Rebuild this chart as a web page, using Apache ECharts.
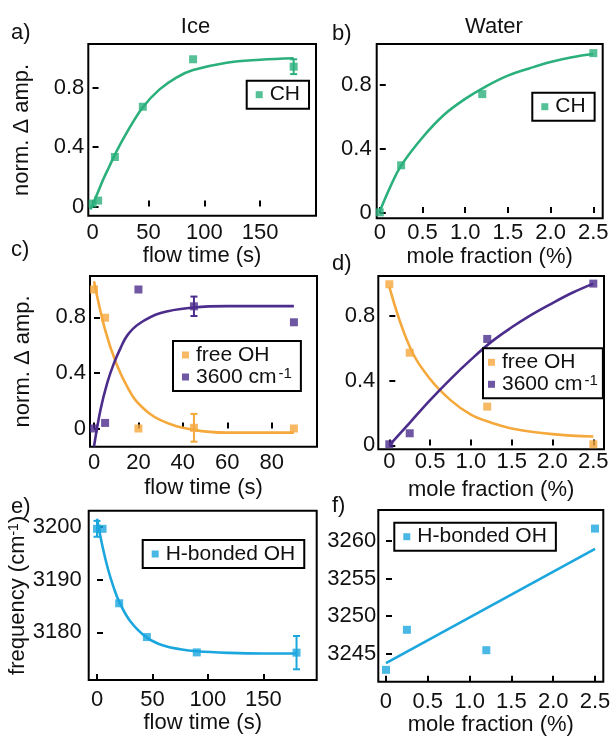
<!DOCTYPE html>
<html>
<head>
<meta charset="utf-8">
<script src="https://cdn.jsdelivr.net/npm/echarts@6/dist/echarts.min.js"></script>
<style>
html,body{margin:0;padding:0;background:#fff;}
#chart{width:616px;height:738px;}
</style>
</head>
<body>
<div id="chart"></div>
<script>
// ---------- DATA ----------
// a) Ice, CH
const aTime = [0, 5, 20, 45, 90, 180];
const aCH = [0.02, 0.04, 0.334, 0.673, 0.993, 0.943];
const aErr = [[180, 0.943, 0.05]];
const aFit = [[-2, -0.02], [0, 0.01], [5, 0.1], [10, 0.19], [15, 0.27], [20, 0.35], [30, 0.49], [45, 0.67], [60, 0.79], [75, 0.87], [90, 0.92], [120, 0.97], [150, 0.99], [180, 1.0]];
// b) Water, CH
const bFrac = [0, 0.25, 1.2, 2.5];
const bCH = [0.004, 0.297, 0.74, 0.995];
const bFit = [[0, 0.01], [0.125, 0.165], [0.25, 0.295], [0.5, 0.47], [0.75, 0.61], [1.0, 0.71], [1.25, 0.79], [1.5, 0.855], [1.75, 0.9], [2.0, 0.94], [2.25, 0.97], [2.5, 0.99]];
// c) Ice, free OH / 3600 cm-1
const cTime = [0, 5, 20, 45, 90];
const cFree = [1.0, 0.797, 0.0, 0.005, 0.0];
const c3600 = [0.0, 0.04, 1.0, 0.879, 0.764];
const cFreeErr = [[45, 0.005, 0.1]];
const c3600Err = [[45, 0.879, 0.07]];
const cFreeFit = [[0, 1.06], [5, 0.71], [10, 0.47], [15, 0.3], [20, 0.18], [30, 0.06], [45, -0.01], [60, -0.03], [90, -0.03]];
const c3600Fit = [[0, -0.13], [3, 0.14], [6, 0.33], [9, 0.47], [12, 0.58], [15, 0.67], [20, 0.75], [30, 0.83], [45, 0.87], [60, 0.88], [90, 0.88]];
// d) Water, free OH / 3600 cm-1
const dFrac = [0, 0.25, 1.2, 2.5];
const dFree = [0.996, 0.573, 0.24, 0.007];
const d3600 = [0.007, 0.075, 0.658, 1.0];
const dFreeFit = [[0, 0.98], [0.25, 0.61], [0.5, 0.41], [0.75, 0.28], [1.0, 0.19], [1.25, 0.14], [1.5, 0.105], [2.0, 0.07], [2.5, 0.055]];
const d3600Fit = [[0, 0], [0.25, 0.14], [0.5, 0.28], [0.75, 0.41], [1.0, 0.53], [1.25, 0.64], [1.5, 0.73], [1.75, 0.81], [2.0, 0.88], [2.25, 0.945], [2.5, 1.0]];
// e) Ice, H-bonded OH frequency
const eTime = [0, 5, 20, 45, 90, 180];
const eFreq = [3199.6, 3199.6, 3185.5, 3179.1, 3176.2, 3176.15];
const eErr = [[0, 3199.6, 1.5], [180, 3176.15, 3.15]];
const eFit = [[0, 3201.5], [5, 3196.2], [10, 3191.9], [15, 3188.5], [20, 3185.8], [30, 3182.1], [45, 3179.0], [60, 3177.5], [75, 3176.8], [90, 3176.4], [120, 3176.1], [150, 3176.0], [180, 3176.0]];
// f) Water, H-bonded OH frequency
const fFrac = [0, 0.25, 1.2, 2.5];
const fFreq = [3242.9, 3248.2, 3245.5, 3261.6];
const fFit = [[0, 3243.8], [2.5, 3258.9]];
// tick values
const tickTimeLong = [0, 50, 100, 150];
const tickTimeShort = [0, 20, 40, 60, 80];
const tickFrac = [0, 0.5, 1.0, 1.5, 2.0, 2.5];
const tickAmp = [0, 0.4, 0.8];
const tickFreqIce = [3180, 3190, 3200];
const tickFreqWater = [3245, 3250, 3255, 3260];

// ---------- STYLE ----------
const FONT = "'Liberation Sans', Arial, Helvetica, sans-serif";
const GREEN = '#2bb07c', ORANGE = '#f5a83c', PURPLE = '#4c2d8c', BLUE = '#1ba6de';
const FS = 22;

function zip(xs, ys) { return xs.map((x, i) => [x, ys[i]]); }
function fmt1(v) { return Math.abs(v) < 1e-9 ? '0' : v.toFixed(1); }
function fmt0(v) { return String(Math.round(v)); }

const grids = [
  {left: 88.3, top: 44, width: 227.7, height: 171.7},
  {left: 376.7, top: 44, width: 226, height: 174.3},
  {left: 90, top: 276, width: 227, height: 170.7},
  {left: 378.3, top: 276, width: 225.7, height: 173.3},
  {left: 88.7, top: 510.7, width: 228, height: 169.3},
  {left: 378.3, top: 510, width: 225, height: 171.7}
].map(g => Object.assign({show: true, borderColor: '#000', borderWidth: 2, backgroundColor: 'transparent', containLabel: false}, g));

function xAx(i, min, max, ticks, fmt, margin, name, gap) {
  return {
    type: 'value', gridIndex: i, min: min, max: max,
    axisLine: {show: false},
    axisTick: {show: true, inside: true, length: 6, customValues: ticks, lineStyle: {color: '#000', width: 2}},
    axisLabel: {show: true, customValues: ticks, formatter: fmt, margin: margin, fontSize: FS, fontFamily: FONT, color: '#111'},
    splitLine: {show: false},
    name: name, nameLocation: 'middle', nameGap: gap,
    nameTextStyle: {fontSize: FS, fontFamily: FONT, color: '#111'}
  };
}
function yAx(i, min, max, ticks, fmt, margin, name, gap) {
  return {
    type: 'value', gridIndex: i, min: min, max: max,
    axisLine: {show: false},
    axisTick: {show: true, inside: true, length: 6, customValues: ticks, lineStyle: {color: '#000', width: 2}},
    axisLabel: {show: true, customValues: ticks, formatter: fmt, margin: margin, fontSize: FS, fontFamily: FONT, color: '#111'},
    splitLine: {show: false},
    name: name || '', nameLocation: 'middle', nameGap: gap || 0, nameRotate: 90,
    nameTextStyle: {fontSize: FS, fontFamily: FONT, color: '#111',
      rich: {sup: {fontSize: 14, fontFamily: FONT, color: '#111', verticalAlign: 'top', lineHeight: 13}}}
  };
}

const xAxes = [
  xAx(0, -3.8, 200, tickTimeLong, fmt0, 6, 'flow time (s)', 28),
  xAx(1, -0.036, 2.61, tickFrac, fmt1, 4, 'mole fraction (%)', 28),
  xAx(2, -1.8, 100.4, tickTimeShort, fmt0, 5, 'flow time (s)', 30),
  xAx(3, -0.135, 2.631, tickFrac, fmt1, 2, 'mole fraction (%)', 30),
  xAx(4, -7.5, 198.2, tickTimeLong, fmt0, 9, 'flow time (s)', 32),
  xAx(5, -0.092, 2.599, tickFrac, fmt1, 9, 'mole fraction (%)', 27)
];
const yAxes = [
  yAx(0, -0.062, 1.096, tickAmp, fmt1, 4, 'norm. \u0394 amp.', 55),
  yAx(1, -0.033, 1.052, tickAmp, fmt1, 5),
  yAx(2, -0.131, 1.097, tickAmp, fmt1, 4, 'norm. \u0394 amp.', 56),
  yAx(3, -0.024, 1.047, tickAmp, fmt1, 3),
  yAx(4, 3170.97, 3203.03, tickFreqIce, fmt0, 7, 'frequency (cm{sup|-1})', 56),
  yAx(5, 3241.33, 3264.06, tickFreqWater, fmt0, 2)
];

function scatter(i, name, data, color) {
  return {type: 'scatter', name: name, xAxisIndex: i, yAxisIndex: i, data: data,
    symbol: 'rect', symbolSize: 8, itemStyle: {color: color}, z: 5, silent: true};
}
function fit(i, data, color, straight) {
  return {type: 'line', name: 'fit' + i + color, xAxisIndex: i, yAxisIndex: i, data: data,
    smooth: straight ? false : 0.4, showSymbol: false, symbol: 'none',
    lineStyle: {color: color, width: 2.6}, z: 3, silent: true, clip: true};
}
function errBars(i, data, color) {
  return {type: 'custom', name: 'err' + i + color, xAxisIndex: i, yAxisIndex: i, data: data, z: 4, silent: true,
    encode: {x: 0, y: 1},
    renderItem: function (params, api) {
      const x = api.value(0), y = api.value(1), e = api.value(2);
      const hi = api.coord([x, y + e]), lo = api.coord([x, y - e]);
      const w = 3.5, st = {stroke: color, lineWidth: 2};
      return {type: 'group', children: [
        {type: 'line', shape: {x1: hi[0], y1: hi[1], x2: lo[0], y2: lo[1]}, style: st},
        {type: 'line', shape: {x1: hi[0] - w, y1: hi[1], x2: hi[0] + w, y2: hi[1]}, style: st},
        {type: 'line', shape: {x1: lo[0] - w, y1: lo[1], x2: lo[0] + w, y2: lo[1]}, style: st}
      ]};
    }
  };
}

const series = [
  fit(0, aFit, GREEN), errBars(0, aErr, GREEN), scatter(0, 'CH', zip(aTime, aCH), GREEN),
  fit(1, bFit, GREEN), scatter(1, 'CH', zip(bFrac, bCH), GREEN),
  fit(2, cFreeFit, ORANGE), fit(2, c3600Fit, PURPLE),
  errBars(2, cFreeErr, ORANGE), errBars(2, c3600Err, PURPLE),
  scatter(2, 'free OH', zip(cTime, cFree), ORANGE), scatter(2, '3600 cm-1', zip(cTime, c3600), PURPLE),
  fit(3, dFreeFit, ORANGE), fit(3, d3600Fit, PURPLE),
  scatter(3, 'free OH', zip(dFrac, dFree), ORANGE), scatter(3, '3600 cm-1', zip(dFrac, d3600), PURPLE),
  fit(4, eFit, BLUE), errBars(4, eErr, BLUE), scatter(4, 'H-bonded OH', zip(eTime, eFreq), BLUE),
  fit(5, fFit, BLUE, true), scatter(5, 'H-bonded OH', zip(fFrac, fFreq), BLUE)
];

function legend(left, top, names, pad) {
  const p = pad || 9;
  return {
    left: left, top: top, orient: 'vertical', data: names, selectedMode: false,
    borderColor: '#000', borderWidth: 2, padding: [3, p, 3, p], borderRadius: 0,
    itemWidth: 7, itemHeight: 7, itemGap: 0, icon: 'rect', backgroundColor: '#fff',
    formatter: function (n) { return n === '3600 cm-1' ? '3600 cm{sup|-1}' : n; },
    textStyle: {fontSize: 21, fontFamily: FONT, color: '#111', lineHeight: 22, padding: [0, 0, 0, 2],
      rich: {sup: {fontSize: 15, fontFamily: FONT, color: '#111', verticalAlign: 'top', lineHeight: 12, padding: [0, 0, 0, 2]}}}
  };
}
const legends = [
  legend(246.7, 80.7, ['CH']),
  legend(532.3, 92.7, ['CH']),
  legend(173, 341, ['free OH', '3600 cm-1']),
  legend(483, 348.3, ['free OH', '3600 cm-1'], 5),
  legend(142.7, 540, ['H-bonded OH']),
  legend(394.3, 522.7, ['H-bonded OH'])
];

function txt(x, y, s, align) {
  return {type: 'text', x: x, y: y, silent: true,
    style: {text: s, fontSize: FS, fontFamily: FONT, fill: '#111',
      align: align || 'left', verticalAlign: 'middle', textAlign: align || 'left', textVerticalAlign: 'middle'}};
}
const graphics = [
  txt(195.5, 27, 'Ice', 'center'),
  txt(494, 27, 'Water', 'center'),
  txt(11, 33, 'a)'), txt(332, 34, 'b)'),
  txt(11, 250, 'c)'), txt(332, 264, 'd)'),
  txt(11, 507, 'e)'), txt(332, 506, 'f)')
];

const chart = echarts.init(document.getElementById('chart'), null, {renderer: 'canvas'});
chart.setOption({
  animation: false,
  backgroundColor: '#fff',
  textStyle: {fontFamily: FONT},
  grid: grids,
  xAxis: xAxes,
  yAxis: yAxes,
  legend: legends,
  series: series,
  graphic: graphics
});
</script>
</body>
</html>
